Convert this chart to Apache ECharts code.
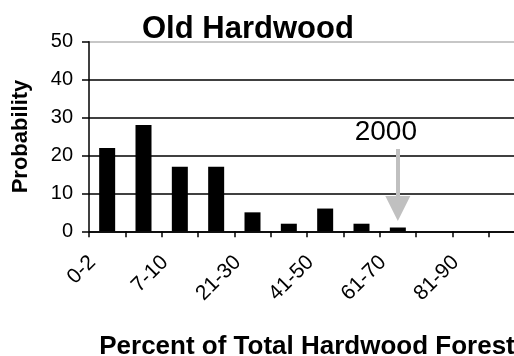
<!DOCTYPE html>
<html>
<head>
<meta charset="utf-8">
<script src="https://cdn.jsdelivr.net/npm/echarts@6/dist/echarts.min.js"></script>
<style>
  html, body { margin: 0; padding: 0; background: #fff; }
  #chart { width: 514px; height: 356px; }
</style>
</head>
<body>
<div id="chart"></div>
<script>
// Percent-of-forest classes and their probabilities
const categories = ['0-2', '3-6', '7-10', '11-20', '21-30', '31-40', '41-50', '51-60', '61-70', '71-80', '81-90', '91-100'];
const probability = [22, 28, 17, 17, 5, 2, 6, 2, 1, 0, 0, 0];
const yTicks = [0, 10, 20, 30, 40, 50];

// Year marker: which class it points at, shaft top and arrow-head centre (in probability units)
const markerLabel = '2000';
const markerClass = '61-70';
const markerTop = 21.7;
const markerHead = 6.0;

const FONT = '"Liberation Sans", Arial, sans-serif';

const chart = echarts.init(document.getElementById('chart'), null, { renderer: 'canvas' });

chart.setOption({
  animation: false,
  backgroundColor: '#ffffff',
  title: {
    text: 'Old Hardwood',
    left: 137,
    top: 9,
    textStyle: { fontFamily: FONT, fontSize: 31, fontWeight: 'bold', color: '#000' }
  },
  grid: {
    left: 89, top: 41.7, right: -11, bottom: 124.7,
    containLabel: false,
    outerBoundsMode: 'none'
  },
  xAxis: {
    type: 'category',
    data: categories,
    boundaryGap: true,
    name: 'Percent of Total Hardwood Forest',
    nameLocation: 'middle',
    nameGap: 103,
    nameTextStyle: { fontFamily: FONT, fontSize: 26, fontWeight: 'bold', color: '#000' },
    axisLine: { show: true, lineStyle: { color: '#000', width: 1.5 } },
    axisTick: { show: true, interval: 0, length: 6, lineStyle: { color: '#000', width: 1.5 } },
    axisLabel: {
      interval: 1,
      rotate: 45,
      margin: 13,
      padding: [0, 21, 0, 0],
      fontFamily: FONT,
      fontSize: 21,
      color: '#000'
    },
    splitLine: { show: false }
  },
  yAxis: {
    type: 'value',
    min: yTicks[0],
    max: yTicks[yTicks.length - 1],
    interval: yTicks[1] - yTicks[0],
    name: 'Probability',
    nameLocation: 'middle',
    nameGap: 57,
    nameTextStyle: { fontFamily: FONT, fontSize: 22, fontWeight: 'bold', color: '#000' },
    axisLine: { show: true, lineStyle: { color: '#000', width: 1.5 } },
    axisTick: { show: true, length: 7, lineStyle: { color: '#000', width: 1.5 } },
    axisLabel: { margin: 16, fontFamily: FONT, fontSize: 20, color: '#000' },
    splitLine: {
      show: true,
      lineStyle: { color: ['#000', '#000', '#000', '#000', '#000', '#b4b4b4'], width: 1.5 }
    }
  },
  series: [{
    type: 'bar',
    data: probability,
    barWidth: 16,
    itemStyle: { color: '#000' },
    markLine: {
      silent: true,
      symbol: ['none', 'triangle'],
      symbolSize: 25,
      lineStyle: { color: '#c0c0c0', width: 4, type: 'solid' },
      itemStyle: { color: '#c0c0c0' },
      label: {
        show: true,
        position: 'start',
        distance: 3,
        padding: [0, 24, 0, 0],
        formatter: markerLabel,
        fontFamily: FONT,
        fontSize: 28,
        color: '#000'
      },
      data: [[
        { xAxis: markerClass, yAxis: markerTop },
        { xAxis: markerClass, yAxis: markerHead }
      ]]
    }
  }]
});
</script>
</body>
</html>
